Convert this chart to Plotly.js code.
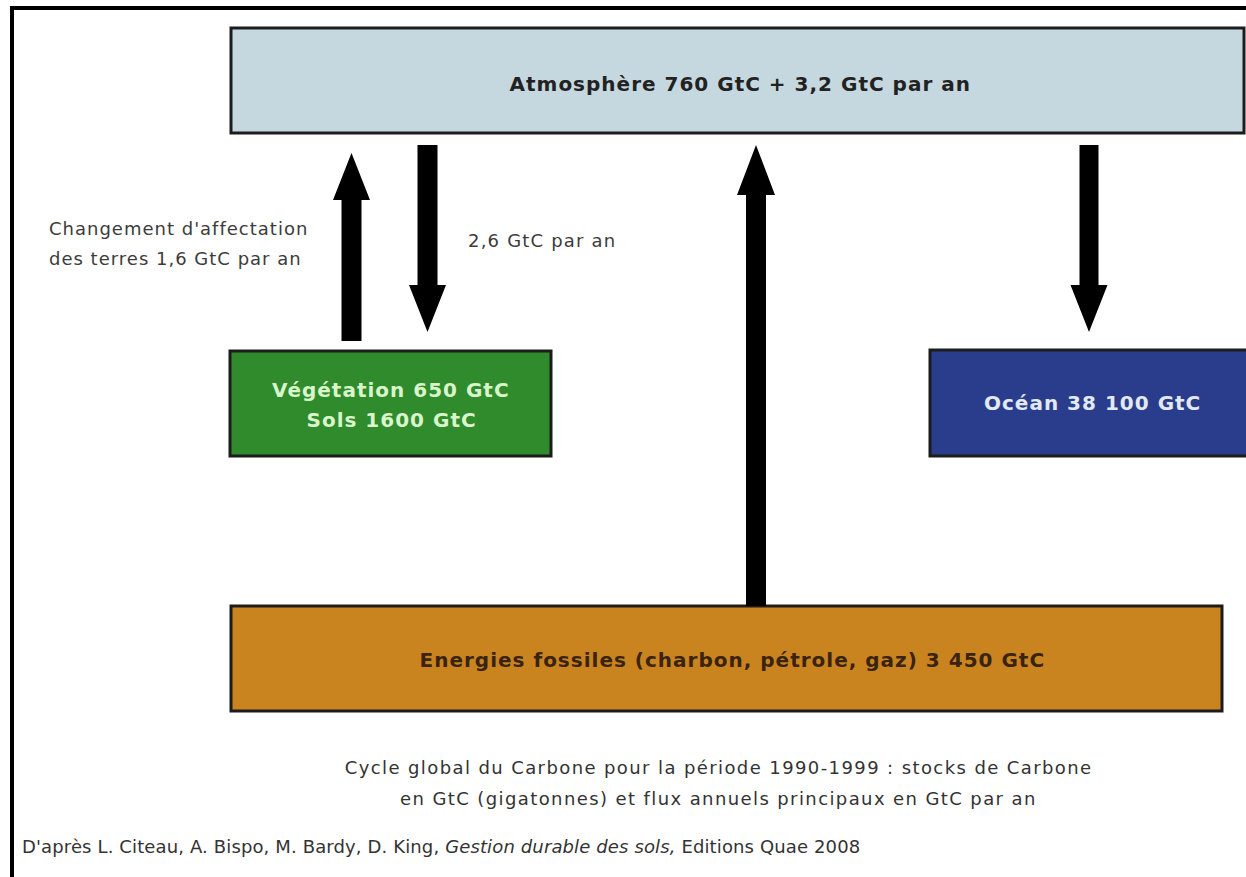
<!DOCTYPE html>
<html>
<head>
<meta charset="utf-8">
<script src="https://cdn.plot.ly/plotly-3.0.1.min.js"></script>
<style>
html,body{margin:0;padding:0;background:#fff;}
#chart{width:1246px;height:877px;}
g.annotation[data-index="0"] text,
g.annotation[data-index="1"] text,
g.annotation[data-index="2"] text,
g.annotation[data-index="3"] text,
g.annotation[data-index="4"] text { letter-spacing: 1px; }
g.annotation[data-index="5"] text { letter-spacing: 1.2px; }
g.annotation[data-index="6"] text,
g.annotation[data-index="7"] text { letter-spacing: 1px; }
g.annotation[data-index="8"] text,
g.annotation[data-index="9"] text { letter-spacing: 1.4px; }
g.annotation[data-index="10"] text { letter-spacing: 0.13px; }
</style>
</head>
<body>
<div id="chart"></div>
<script>
// ---- Data ----
const stockNames = ['Atmosphère', 'Végétation', 'Sols', 'Océan', 'Energies fossiles (charbon, pétrole, gaz)'];
const stockValues = [760, 650, 1600, 38100, 3450];   // GtC
const fluxNames = ['Atmosphère (accumulation)', 'Atmosphère → Végétation/Sols', 'Changement d\'affectation des terres'];
const fluxValues = [3.2, 2.6, 1.6];                  // GtC par an
const unitStock = 'GtC';
const unitFlux = 'GtC par an';
const captionLines = [
  'Cycle global du Carbone pour la période 1990-1999 : stocks de Carbone',
  'en GtC (gigatonnes) et flux annuels principaux en GtC par an'
];
const sourceText = "D'après L. Citeau, A. Bispo, M. Bardy, D. King, <i>Gestion durable des sols,</i> Editions Quae 2008";

// ---- Helpers ----
function fmtInt(v) { return v >= 2000 ? String(v).replace(/\B(?=(\d{3})+(?!\d))/g, ' ') : String(v); }
function fmtDec(v) { return String(v).replace('.', ','); }

const FONT = 'DejaVu Sans, Verdana, sans-serif';

function box(x0, y0, x1, y1, fill) {
  return {type: 'rect', xref: 'x', yref: 'y', x0: x0, y0: y0, x1: x1, y1: y1,
          fillcolor: fill, line: {color: '#1c1c1c', width: 3}, layer: 'below'};
}
// vertical block arrow: cx center, shaft half-width sw, head half-width hw
function arrow(cx, yTail, yHeadBase, yTip, sw, hw) {
  const p = 'M ' + (cx - sw) + ' ' + yTail +
            ' L ' + (cx - sw) + ' ' + yHeadBase +
            ' L ' + (cx - hw) + ' ' + yHeadBase +
            ' L ' + cx + ' ' + yTip +
            ' L ' + (cx + hw) + ' ' + yHeadBase +
            ' L ' + (cx + sw) + ' ' + yHeadBase +
            ' L ' + (cx + sw) + ' ' + yTail + ' Z';
  return {type: 'path', xref: 'x', yref: 'y', path: p, fillcolor: '#000', line: {color: '#000', width: 0}};
}

const shapes = [
  // frame
  {type: 'line', xref: 'x', yref: 'y', x0: 12, y0: 6, x1: 12, y1: 877, line: {color: '#000', width: 4}},
  {type: 'line', xref: 'x', yref: 'y', x0: 10, y0: 8, x1: 1246, y1: 8, line: {color: '#000', width: 4}},
  // boxes
  box(231, 28, 1244, 133, '#c6d8df'),
  box(230, 351, 551, 456, '#2f8b2b'),
  box(930, 350, 1252, 456, '#2a3d8c'),
  box(231, 606, 1222, 711, '#c9841f'),
  // arrows
  arrow(351.5, 341, 200, 153, 10, 18.5),
  arrow(427.5, 145, 285, 332, 10, 18.5),
  arrow(756, 606, 195, 145, 10, 19),
  arrow(1089, 145, 285, 332, 9.5, 18.5)
];

function ann(x, y, text, size, color, bold, anchor) {
  return {xref: 'x', yref: 'y', x: x, y: y, text: bold ? '<b>' + text + '</b>' : text,
          showarrow: false, xanchor: anchor || 'center', yanchor: 'middle', align: anchor || 'center',
          font: {family: FONT, size: size, color: color}};
}

const annotations = [
  ann(740, 84, stockNames[0] + ' ' + fmtInt(stockValues[0]) + ' ' + unitStock + ' + ' + fmtDec(fluxValues[0]) + ' ' + unitFlux, 20, '#222', true),
  ann(391, 390, stockNames[1] + ' ' + fmtInt(stockValues[1]) + ' ' + unitStock, 20, '#d9f5cc', true),
  ann(391, 420, stockNames[2] + ' ' + fmtInt(stockValues[2]) + ' ' + unitStock, 20, '#d9f5cc', true),
  ann(1092, 403, stockNames[3] + ' ' + fmtInt(stockValues[3]) + ' ' + unitStock, 20, '#e2e9f3', true),
  ann(732, 660, stockNames[4] + ' ' + fmtInt(stockValues[4]) + ' ' + unitStock, 20, '#3a2311', true),
  ann(466, 240, fmtDec(fluxValues[1]) + ' ' + unitFlux, 18, '#3c3c3c', false, 'left'),
  ann(47, 228, 'Changement d\'affectation', 18, '#3c3c3c', false, 'left'),
  ann(47, 258, 'des terres ' + fmtDec(fluxValues[2]) + ' ' + unitFlux, 18, '#3c3c3c', false, 'left'),
  ann(718, 767, captionLines[0], 18, '#333', false),
  ann(718, 798, captionLines[1], 18, '#333', false),
  ann(20, 846, sourceText, 18, '#333', false, 'left')
];

const layout = {
  width: 1246, height: 877,
  margin: {l: 0, r: 0, t: 0, b: 0, pad: 0},
  paper_bgcolor: '#fff', plot_bgcolor: '#fff',
  showlegend: false,
  xaxis: {range: [0, 1246], visible: false, fixedrange: true},
  yaxis: {range: [877, 0], visible: false, fixedrange: true},
  shapes: shapes,
  annotations: annotations
};

Plotly.newPlot('chart', [{x: [], y: [], type: 'scatter', mode: 'markers', hoverinfo: 'skip'}], layout, {staticPlot: true, displayModeBar: false});
</script>
</body>
</html>
